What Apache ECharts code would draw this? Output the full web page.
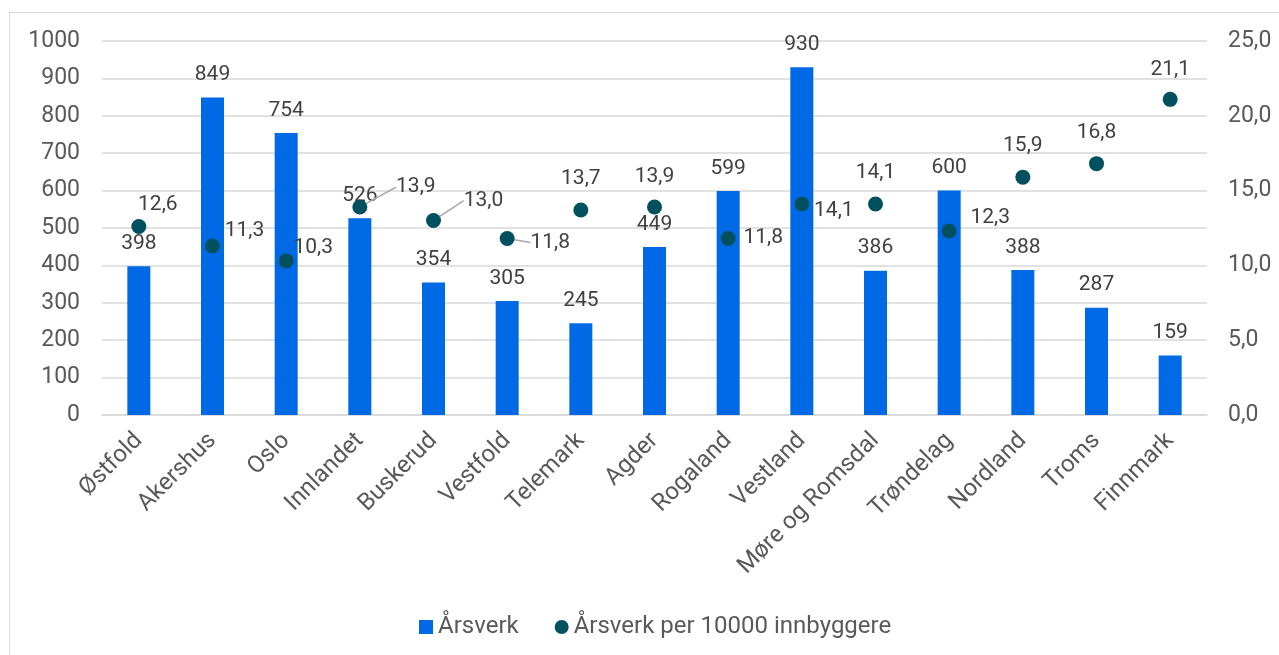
<!DOCTYPE html>
<html>
<head>
<meta charset="utf-8">
<script src="https://cdn.jsdelivr.net/npm/echarts@6/dist/echarts.min.js"></script>
<style>
    html, body { margin: 0; padding: 0; background: #fff; }
    .frame {
        position: absolute;
        left: 9px;
        top: 12px;
        width: 1300px;
        height: 700px;
        border: 1.5px solid #d9d9d9;
    }
    #chart { position: absolute; left: 0; top: 0; width: 1279px; height: 655px; }
</style>
</head>
<body>
<div class="frame"></div>
<div id="chart"></div>
<script>
const fylker = ['Østfold', 'Akershus', 'Oslo', 'Innlandet', 'Buskerud', 'Vestfold', 'Telemark',
    'Agder', 'Rogaland', 'Vestland', 'Møre og Romsdal', 'Trøndelag', 'Nordland', 'Troms', 'Finnmark']
const arsverk = [398, 849, 754, 526, 354, 305, 245, 449, 599, 930, 386, 600, 388, 287, 159]
const perInnbygger = [12.6, 11.3, 10.3, 13.9, 13.0, 11.8, 13.7, 13.9, 11.8, 14.1, 14.1, 12.3, 15.9, 16.8, 21.1]

// where Excel put each rate label, relative to its dot (px)
const rateLabelShift = [
    [19, -22], [32, -15], [27, -13], [56, -20], [50, -20], [43, 4], [0, -31],
    [0, -30], [35, -1], [32, 7], [0, -31], [41, -13], [0, -31], [0, -31], [0, -30]
]
const withLeader = [3, 4, 5]

const comma = v => v.toFixed(1).replace('.', ',')
const FONT = 'Roboto'

const chart = echarts.init(document.getElementById('chart'))
chart.setOption({
    animation: false,
    textStyle: { fontFamily: FONT },
    grid: { left: 102, right: 72, top: 41, bottom: 240 },
    legend: {
        left: 414,
        top: 610,
        itemWidth: 14,
        itemHeight: 14,
        itemGap: 36,
        textStyle: { fontSize: 24, color: '#595959', fontFamily: FONT },
        data: [
            { name: 'Årsverk', icon: 'rect' },
            { name: 'Årsverk per 10000 innbyggere', icon: 'circle' }
        ]
    },
    xAxis: {
        type: 'category',
        data: fylker,
        axisTick: { show: false },
        axisLine: { lineStyle: { color: '#d9d9d9', width: 1.5 } },
        axisLabel: {
            rotate: 45,
            interval: 0,
            margin: 22,
            fontSize: 24,
            color: '#595959',
            fontFamily: FONT
        }
    },
    yAxis: [
        {
            type: 'value',
            min: 0,
            max: 1000,
            interval: 100,
            axisLabel: { fontSize: 23, color: '#595959', margin: 22, fontFamily: FONT, formatter: v => String(v) },
            splitLine: { lineStyle: { color: '#d9d9d9', width: 1.5 } }
        },
        {
            type: 'value',
            min: 0,
            max: 25,
            interval: 5,
            axisLabel: { fontSize: 23, color: '#595959', margin: 21, fontFamily: FONT, formatter: comma },
            splitLine: { show: false }
        }
    ],
    series: [
        {
            name: 'Årsverk',
            type: 'bar',
            barWidth: 23,
            data: arsverk,
            itemStyle: { color: '#006ae6' },
            label: {
                show: true,
                position: 'top',
                distance: 12,
                fontSize: 21,
                color: '#404040',
                fontFamily: FONT
            }
        },
        {
            name: 'Årsverk per 10000 innbyggere',
            type: 'scatter',
            yAxisIndex: 1,
            symbolSize: 15,
            itemStyle: { color: '#00505f', opacity: 1 },
            data: perInnbygger.map((v, i) => withLeader.includes(i)
                ? { value: v, labelLine: { show: true } }
                : v),
            label: {
                show: true,
                position: 'inside',
                fontSize: 21,
                color: '#404040',
                opacity: 1,
                fontFamily: FONT,
                formatter: p => comma(p.value)
            },
            labelLine: {
                show: false,
                lineStyle: { color: '#a6a6a6', width: 1.5 }
            },
            labelLayout: p => ({
                dx: rateLabelShift[p.dataIndex][0],
                dy: rateLabelShift[p.dataIndex][1]
            })
        }
    ]
})
</script>
</body>
</html>
